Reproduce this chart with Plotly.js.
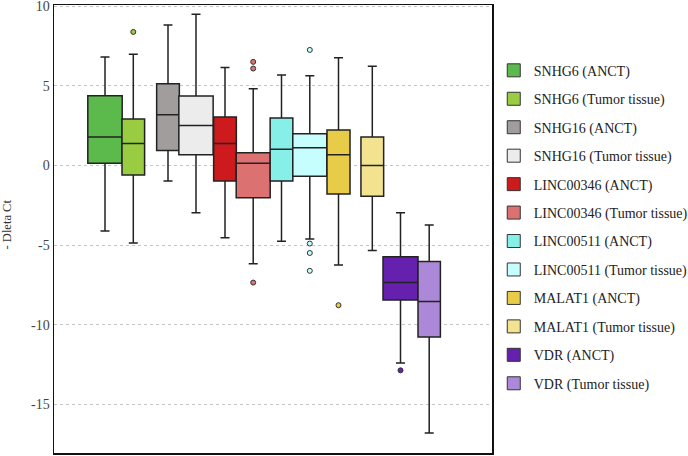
<!DOCTYPE html>
<html><head><meta charset="utf-8">
<script src="https://cdn.plot.ly/plotly-3.0.1.min.js"></script>
<style>html,body{margin:0;padding:0;background:#fff;}#chart{width:688px;height:456px;}</style>
</head><body><div id="chart"></div>
<script>
// ---- data ----
const categories = ["SNHG6 (ANCT)","SNHG6 (Tumor tissue)","SNHG16 (ANCT)","SNHG16 (Tumor tissue)",
  "LINC00346 (ANCT)","LINC00346 (Tumor tissue)","LINC00511 (ANCT)","LINC00511 (Tumor tissue)",
  "MALAT1 (ANCT)","MALAT1 (Tumor tissue)","VDR (ANCT)","VDR (Tumor tissue)"];
const upperFence = [6.82, 6.99, 8.83, 9.50, 6.16, 4.82, 5.69, 5.63, 6.76, 6.24, -2.96, -3.73];
const q3Values   = [4.38, 2.92, 5.13, 4.36, 3.04, 0.80, 2.98, 1.99, 2.23, 1.79, -5.72, -6.03];
const medians    = [1.79, 1.39, 3.19, 2.52, 1.39, 0.14, 1.02, 1.12, 0.68, 0.01, -7.35, -8.54];
const q1Values   = [0.14, -0.60, 0.95, 0.68, -0.97, -2.02, -0.97, -0.68, -1.79, -1.93, -8.45, -10.77];
const lowerFence = [-4.11, -4.86, -0.97, -2.96, -4.53, -6.16, -4.75, -4.61, -6.24, -5.34, -12.40, -16.79];
const outliers   = [[], [8.39], [], [], [], [6.51, 6.09, -7.35], [], [7.26, -4.90, -5.49, -6.61], [-8.77], [], [-12.86], []];
const yTicks = [-15, -10, -5, 0, 5, 10];
const yTitle = "- Dleta Ct";

// ---- layout/style (not data) ----
const positions = [51, 79.3, 114, 142, 171, 199.2, 227.5, 255.8, 284.5, 318.3, 346.5, 375.2];
const boxWidths = [34.4, 22.6, 22.7, 34.3, 22.7, 34, 22.7, 34, 23, 22.7, 35, 22.4];
const colors = ["#5cb94b","#99cc40","#a19d9d","#ececec","#cc1a1d","#dc7171",
  "#86f0e8","#c6fdfd","#e8cc48","#f3e290","#6620ae","#ac89d8"];
const serif = "Liberation Serif";

const traces = [];
categories.forEach((c, i) => {
  traces.push({
    type: "box", name: c, x: [positions[i]],
    q1: [q1Values[i]], median: [medians[i]], q3: [q3Values[i]],
    lowerfence: [lowerFence[i]], upperfence: [upperFence[i]],
    width: boxWidths[i], whiskerwidth: 9 / boxWidths[i],
    fillcolor: colors[i], line: {color: "#222", width: 1.5},
    boxpoints: false, showlegend: false, hoverinfo: "skip"
  });
  if (outliers[i].length) {
    traces.push({
      type: "scatter", mode: "markers", x: outliers[i].map(() => positions[i]), y: outliers[i],
      marker: {size: 5, color: colors[i], line: {color: "#333", width: 1}},
      showlegend: false, hoverinfo: "skip"
    });
  }
});
categories.forEach((c, i) => {
  traces.push({
    type: "scatter", mode: "markers", name: c, x: [null], y: [null], legendgroup: "g" + i,
    marker: {symbol: "square", size: 13, color: colors[i], line: {color: "#333", width: 1}},
    showlegend: true
  });
});

const layout = {
  width: 688, height: 456,
  margin: {l: 54, r: 196, t: 5, b: 3, autoexpand: false},
  paper_bgcolor: "#fff", plot_bgcolor: "#fff",
  showlegend: true,
  legend: {x: 1.004, xanchor: "left", y: 0.889, yanchor: "top",
    font: {family: serif, size: 14, color: "#222"}, tracegroupgap: 7.25, bgcolor: "rgba(0,0,0,0)"},
  xaxis: {range: [0, 438], showticklabels: false, showgrid: false, zeroline: false,
    showline: true, mirror: true, linecolor: "#111", linewidth: 1.5, ticks: ""},
  yaxis: {range: [-18.05, 10.08], tickvals: yTicks, ticktext: yTicks.map(String),
    showgrid: true, gridcolor: "#c4c4c4", griddash: "dot", gridwidth: 1, zeroline: false,
    showline: true, mirror: true, linecolor: "#111", linewidth: 1.5, ticks: "",
    ticklabeloverflow: "allow", automargin: false,
    tickfont: {family: serif, size: 14, color: "#444"}},
  annotations: [{text: yTitle, xref: "paper", yref: "paper", x: -0.1065, y: 0.511,
    xanchor: "center", yanchor: "middle", textangle: -90, showarrow: false,
    font: {family: serif, size: 12.5, color: "#333"}}],
  boxmode: "overlay"
};
Plotly.newPlot("chart", traces, layout, {displayModeBar: false, staticPlot: true});
</script></body></html>
